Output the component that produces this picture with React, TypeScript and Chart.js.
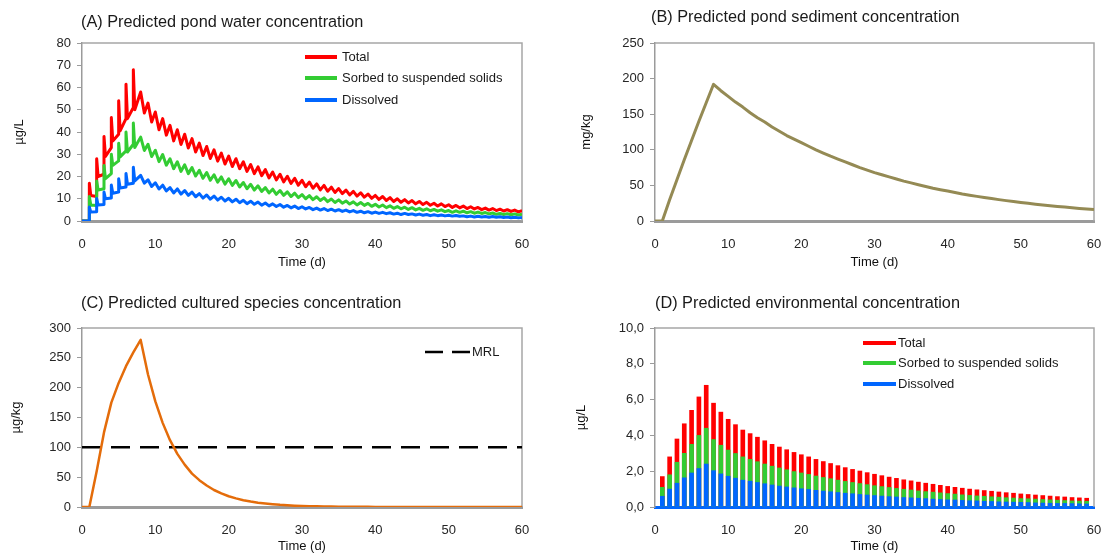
import React, { useEffect, useRef } from "react";
import { Chart, registerables } from "chart.js";

Chart.register(...registerables);

const FONT = '"Liberation Sans", Arial, Helvetica, sans-serif';
const TICK_COLOR = "#262626";
const AXIS_GRAY = "#9B9B9B";
const FRAME_GRAY = "#A6A6A6";

const RED = "#FF0000";
const GREEN = "#33CC33";
const BLUE = "#0066FF";
const OLIVE = "#948A54";
const ORANGE = "#E46C0A";

// ---------- (A) pond water concentration, µg/L ----------
// values just before each daily dose (days 1-7), the dose peak, and the value right after the drop
const totalBefore = [0, 11, 21, 33, 39, 46, 51];
const totalAfter = [11.5, 20, 29, 36, 40.5, 46, 50];
const totalPeak = [
  17, 28, 38, 46.5, 54, 61.5, 68,
  58, 53, 49, 46, 43, 41, 39, 37, 35, 33.5, 32, 30.5, 29.2,
  28, 26.6, 25.4, 24.3, 23.1, 22, 21, 20.1, 19.2, 18.3,
  17.5, 16.7, 16, 15.2, 14.6, 13.9, 13.3, 12.7, 12.1, 11.5,
  11, 10.5, 10, 9.6, 9.2, 8.8, 8.4, 8, 7.7, 7.3,
  7, 6.7, 6.4, 6.1, 5.8, 5.6, 5.3, 5.1, 4.9, 4.7,
];
// troughs between daily peaks, days 8.5 ... 59.5
const totalTrough = [
  48.5, 44.5, 41, 38.6, 36, 34.4, 32.8, 31, 29.4, 28.1,
  26.9, 25.6, 24.5, 23.5, 22.3, 21.3, 20.4, 19.4, 18.5, 17.6,
  16.9, 16.1, 15.4, 14.7, 14, 13.4, 12.8, 12.3, 11.7, 11.2,
  10.7, 10.2, 9.7, 9.2, 8.8, 8.4, 8.1, 7.7, 7.4, 7.1,
  6.7, 6.5, 6.1, 5.9, 5.6, 5.4, 5.1, 4.9, 4.7, 4.5,
  4.3, 4.1,
];

const sorbedBefore = [0, 7, 14.5, 21.3, 27, 31.5, 34.5];
const sorbedAfter = [7.2, 13.9, 19, 25, 28.8, 31, 33];
const sorbedPeak = [
  11, 18, 25, 30, 35, 40, 44,
  37.7, 34.5, 31.8, 29.9, 28, 26.6, 25.3, 24, 22.8, 21.8, 20.8, 19.8, 19,
  18.2, 17.3, 16.5, 15.8, 15, 14.3, 13.7, 13.1, 12.5, 11.9,
  11.4, 10.9, 10.4, 9.9, 9.5, 9, 8.6, 8.3, 7.9, 7.5,
  7.2, 6.8, 6.5, 6.2, 6, 5.7, 5.5, 5.2, 5, 4.7,
  4.6, 4.4, 4.2, 4, 3.8, 3.6, 3.4, 3.3, 3.2, 3.1,
];
const sorbedTrough = [
  31.7, 29, 26.7, 25.1, 23.5, 22.3, 21.3, 20.2, 19.2, 18.3,
  17.5, 16.6, 16, 15.3, 14.5, 13.9, 13.3, 12.6, 12, 11.5,
  11, 10.5, 10, 9.6, 9.2, 8.7, 8.3, 8, 7.6, 7.2,
  7, 6.6, 6.3, 6, 5.7, 5.5, 5.2, 5, 4.8, 4.6,
  4.4, 4.2, 3.9, 3.9, 3.7, 3.5, 3.4, 3.2, 3, 2.9,
  2.8, 2.7,
];

const dissolvedBefore = [0, 4.2, 7.4, 10.3, 13, 15.3, 17];
const dissolvedAfter = [4, 7.2, 10, 12.5, 14.8, 16.5, 18];
const dissolvedPeak = [
  6.3, 10.1, 13, 16.2, 19, 21.4, 24.2,
  20.5, 18.5, 17.2, 16.1, 15, 14.4, 13.7, 13, 12.3, 11.7, 11.2, 10.7, 10.2,
  9.8, 9.3, 8.9, 8.5, 8.1, 7.7, 7.4, 7, 6.7, 6.4,
  6.1, 5.8, 5.6, 5.3, 5.1, 4.9, 4.7, 4.4, 4.2, 4,
  3.9, 3.7, 3.5, 3.4, 3.2, 3.1, 2.9, 2.8, 2.7, 2.6,
  2.5, 2.3, 2.2, 2.1, 2, 2, 1.9, 1.8, 1.7, 1.6,
];
const dissolvedTrough = [
  17, 15.5, 14.4, 13.5, 12.6, 12.1, 11.5, 10.9, 10.3, 9.8,
  9.4, 9, 8.6, 8.2, 7.8, 7.5, 7.1, 6.8, 6.5, 6.2,
  5.9, 5.6, 5.4, 5.1, 4.9, 4.7, 4.5, 4.3, 4.1, 3.9,
  3.7, 3.5, 3.4, 3.3, 3.1, 2.9, 2.9, 2.7, 2.6, 2.4,
  2.4, 2.3, 2.2, 2.1, 1.9, 1.8, 1.8, 1.7, 1.7, 1.6,
  1.5, 1.4,
];

// ---------- (B) pond sediment concentration, mg/kg (days 0..60) ----------
const sediment = [
  0, 0, 30, 58, 86, 113, 140, 166, 192, 183,
  175, 167, 160, 152, 145, 139, 132, 126, 120, 115,
  110, 105, 100, 95.5, 91, 87, 83, 79, 75, 71.5,
  68, 65, 62, 59, 56, 53.5, 51, 48.5, 46, 44,
  42, 40, 38, 36.3, 34.6, 33, 31.5, 30, 28.6, 27.3,
  26, 24.8, 23.6, 22.5, 21.5, 20.5, 19.5, 18.6, 17.7, 16.9,
  16.1,
];

// ---------- (C) cultured species concentration, µg/kg (days 0..60) ----------
const species = [
  0, 0, 60, 125, 175, 208, 236, 259, 280, 222,
  177, 141, 112, 89, 71, 56, 45, 36, 28.5, 22.7,
  18, 14.4, 11.4, 9.1, 7.2, 5.8, 4.6, 3.6, 2.9, 2.3,
  1.8, 1.4, 1.1, 0.9, 0.7, 0.55, 0.45, 0.35, 0.28, 0.22,
  0.18, 0.14, 0.11, 0.09, 0.07, 0.06, 0.05, 0.04, 0.03, 0.02,
  0.02, 0.02, 0.01, 0.01, 0.01, 0.01, 0, 0, 0, 0,
  0,
];
const MRL = 100;

// ---------- (D) environmental concentration, µg/L (days 1..59) ----------
const envTotal = [
  1.7, 2.8, 3.8, 4.65, 5.4, 6.15, 6.8, 5.8, 5.3, 4.9,
  4.6, 4.3, 4.1, 3.9, 3.7, 3.5, 3.35, 3.2, 3.05, 2.92,
  2.8, 2.66, 2.54, 2.43, 2.31, 2.2, 2.1, 2.01, 1.92, 1.83,
  1.75, 1.67, 1.6, 1.52, 1.46, 1.39, 1.33, 1.27, 1.21, 1.15,
  1.1, 1.05, 1.0, 0.96, 0.92, 0.88, 0.84, 0.8, 0.77, 0.73,
  0.7, 0.67, 0.64, 0.61, 0.58, 0.56, 0.53, 0.51, 0.49,
];
const envSorbed = [
  1.1, 1.8, 2.5, 3.0, 3.5, 4.0, 4.4, 3.77, 3.45, 3.18,
  2.99, 2.8, 2.66, 2.53, 2.4, 2.28, 2.18, 2.08, 1.98, 1.9,
  1.82, 1.73, 1.65, 1.58, 1.5, 1.43, 1.37, 1.31, 1.25, 1.19,
  1.14, 1.09, 1.04, 0.99, 0.95, 0.9, 0.86, 0.83, 0.79, 0.75,
  0.72, 0.68, 0.65, 0.62, 0.6, 0.57, 0.55, 0.52, 0.5, 0.47,
  0.46, 0.44, 0.42, 0.4, 0.38, 0.36, 0.34, 0.33, 0.32,
];
const envDissolved = [
  0.6, 1.0, 1.33, 1.63, 1.9, 2.15, 2.4, 2.03, 1.85, 1.72,
  1.61, 1.5, 1.44, 1.37, 1.3, 1.23, 1.17, 1.12, 1.07, 1.02,
  0.98, 0.93, 0.89, 0.85, 0.81, 0.77, 0.74, 0.7, 0.67, 0.64,
  0.61, 0.58, 0.56, 0.53, 0.51, 0.49, 0.47, 0.44, 0.42, 0.4,
  0.39, 0.37, 0.35, 0.34, 0.32, 0.31, 0.29, 0.28, 0.27, 0.26,
  0.25, 0.23, 0.22, 0.21, 0.2, 0.2, 0.19, 0.18, 0.17,
];

const X_TICK_STEP = 10;
const LEGEND_LABELS = ["Total", "Sorbed to suspended solids", "Dissolved"];

// ---------- helpers ----------
type Pt = { x: number; y: number };

function buildPondSeries(before: number[], peak: number[], after: number[], trough: number[]): Pt[] {
  const pts: Pt[] = [{ x: 0, y: 0 }];
  const doseDays = before.length;
  for (let d = 1; d <= doseDays; d++) {
    pts.push({ x: d, y: before[d - 1] });
    pts.push({ x: d, y: peak[d - 1] });
    pts.push({ x: d + 0.2, y: after[d - 1] });
  }
  for (let d = doseDays + 1; d <= peak.length; d++) {
    pts.push({ x: d, y: peak[d - 1] });
    const t = trough[d - doseDays - 1];
    if (t !== undefined) pts.push({ x: d + 0.5, y: t });
  }
  return pts;
}

function dailyPoints(values: number[], firstDay: number): Pt[] {
  return values.map((v, i) => ({ x: firstDay + i, y: v }));
}

const decorPlugin = {
  id: "panelDecor",
  beforeDatasetsDraw(chart: any) {
    const { ctx, chartArea: ca } = chart;
    ctx.save();
    ctx.strokeStyle = FRAME_GRAY;
    ctx.lineWidth = 1.5;
    ctx.beginPath();
    ctx.moveTo(ca.left, ca.top);
    ctx.lineTo(ca.right, ca.top);
    ctx.lineTo(ca.right, ca.bottom);
    ctx.stroke();
    ctx.restore();
  },
  afterDraw(chart: any, _args: any, opts: any) {
    const { ctx } = chart;
    ctx.save();
    ctx.textBaseline = "middle";
    ctx.textAlign = "left";
    ctx.fillStyle = "#1a1a1a";
    ctx.font = `16.3px ${FONT}`;
    ctx.fillText(opts.title, opts.titleX, opts.titleY);
    const lg = opts.legend;
    if (lg) {
      ctx.font = `13px ${FONT}`;
      for (let i = 0; i < lg.items.length; i++) {
        const it = lg.items[i];
        const y = lg.ys[i];
        ctx.strokeStyle = it.color;
        ctx.lineWidth = it.width;
        ctx.setLineDash(it.dash ? [it.dash[0], it.dash[1]] : []);
        ctx.beginPath();
        ctx.moveTo(lg.x1, y);
        ctx.lineTo(lg.x2, y);
        ctx.stroke();
        ctx.setLineDash([]);
        ctx.fillStyle = "#1a1a1a";
        ctx.fillText(it.label, lg.tx, y);
      }
    }
    ctx.restore();
  },
};

type AxisSpec = {
  yMax: number;
  yStep: number;
  yTitle: string;
  yTitlePad: number;
  yWidth: number;
  padRight: number;
  padTop: number;
  xHeight: number;
  xTitlePad: number;
  xBorderColor: string;
  yFormat?: (v: number) => string;
};

function makeScales(s: AxisSpec) {
  const yTicks: any = {
    stepSize: s.yStep,
    color: TICK_COLOR,
    font: { family: FONT, size: 13 },
    padding: 6,
    autoSkip: false,
  };
  if (s.yFormat) yTicks.callback = s.yFormat;
  return {
    x: {
      type: "linear",
      min: 0,
      max: 60,
      offset: false,
      stacked: true,
      ticks: {
        stepSize: X_TICK_STEP,
        color: TICK_COLOR,
        font: { family: FONT, size: 13 },
        padding: 8,
        maxRotation: 0,
        autoSkip: false,
      },
      grid: { display: false },
      border: { display: true, color: s.xBorderColor, width: 3 },
      title: {
        display: true,
        text: "Time (d)",
        color: "#111",
        font: { family: FONT, size: 13, lineHeight: 1 },
        padding: { top: 0, bottom: s.xTitlePad },
      },
      afterFit: (scale: any) => {
        scale.height = s.xHeight;
      },
    },
    y: {
      type: "linear",
      min: 0,
      max: s.yMax,
      stacked: false,
      ticks: yTicks,
      grid: {
        display: true,
        drawOnChartArea: false,
        drawTicks: true,
        tickLength: 5,
        color: AXIS_GRAY,
        lineWidth: 1,
      },
      border: { display: true, color: AXIS_GRAY, width: 1.5 },
      title: {
        display: true,
        text: s.yTitle,
        color: "#111",
        font: { family: FONT, size: 13, lineHeight: 1.2 },
        padding: { top: s.yTitlePad, bottom: 0 },
      },
      afterFit: (scale: any) => {
        scale.width = s.yWidth;
      },
    },
  };
}

function baseOptions(s: AxisSpec, decor: any) {
  return {
    responsive: false,
    animation: false,
    devicePixelRatio: 1,
    layout: { padding: { left: 0, right: s.padRight, top: s.padTop, bottom: 0 } },
    plugins: {
      legend: { display: false },
      tooltip: { enabled: false },
      panelDecor: decor,
    },
    scales: makeScales(s),
    elements: { point: { radius: 0 } },
  };
}

const TOP_H = 276;
const BOTTOM_H = 277;
const LEFT_W = 551;
const RIGHT_W = 559; // extends past the page edge; clipped by the wrapper

function configA() {
  const lineDs = (label: string, data: Pt[], color: string, order: number) => ({
    type: "line",
    label,
    data,
    borderColor: color,
    backgroundColor: color,
    borderWidth: 3,
    pointRadius: 0,
    tension: 0,
    borderJoinStyle: "round",
    order,
  });
  return {
    type: "line",
    data: {
      datasets: [
        lineDs(LEGEND_LABELS[0], buildPondSeries(totalBefore, totalPeak, totalAfter, totalTrough), RED, 3),
        lineDs(LEGEND_LABELS[1], buildPondSeries(sorbedBefore, sorbedPeak, sorbedAfter, sorbedTrough), GREEN, 2),
        lineDs(LEGEND_LABELS[2], buildPondSeries(dissolvedBefore, dissolvedPeak, dissolvedAfter, dissolvedTrough), BLUE, 1),
      ],
    },
    options: baseOptions(
      { yMax: 80, yStep: 10, yTitle: "µg/L", yTitlePad: 12, yWidth: 82, padRight: 29, padTop: 43, xHeight: 55, xTitlePad: 7.5, xBorderColor: AXIS_GRAY },
      {
        title: "(A) Predicted pond water concentration",
        titleX: 81,
        titleY: 23,
        legend: {
          x1: 305, x2: 337, tx: 342, ys: [57, 78, 100],
          items: [
            { label: LEGEND_LABELS[0], color: RED, width: 4 },
            { label: LEGEND_LABELS[1], color: GREEN, width: 4 },
            { label: LEGEND_LABELS[2], color: BLUE, width: 4 },
          ],
        },
      }
    ),
    plugins: [decorPlugin],
  };
}

function configB() {
  return {
    type: "line",
    data: {
      datasets: [
        {
          label: "Sediment",
          data: dailyPoints(sediment, 0),
          borderColor: OLIVE,
          borderWidth: 3,
          pointRadius: 0,
          tension: 0,
          borderJoinStyle: "round",
        },
      ],
    },
    options: baseOptions(
      { yMax: 250, yStep: 50, yTitle: "mg/kg", yTitlePad: 28, yWidth: 104, padRight: 16, padTop: 43, xHeight: 55, xTitlePad: 7.5, xBorderColor: AXIS_GRAY },
      { title: "(B) Predicted pond sediment concentration", titleX: 100, titleY: 18 }
    ),
    plugins: [decorPlugin],
  };
}

function configC() {
  return {
    type: "line",
    data: {
      datasets: [
        {
          label: "Cultured species",
          data: dailyPoints(species, 0),
          borderColor: ORANGE,
          borderWidth: 2.5,
          pointRadius: 0,
          tension: 0,
          borderJoinStyle: "round",
          order: 1,
        },
        {
          label: "MRL",
          data: [
            { x: 0, y: MRL },
            { x: 60, y: MRL },
          ],
          borderColor: "#000000",
          borderWidth: 2.5,
          borderDash: [19, 10],
          pointRadius: 0,
          order: 2,
        },
      ],
    },
    options: baseOptions(
      { yMax: 300, yStep: 50, yTitle: "µg/kg", yTitlePad: 9, yWidth: 82, padRight: 29, padTop: 52, xHeight: 46, xTitlePad: 0, xBorderColor: AXIS_GRAY },
      {
        title: "(C) Predicted cultured species concentration",
        titleX: 81,
        titleY: 28,
        legend: {
          x1: 425, x2: 470, tx: 472, ys: [76],
          items: [{ label: "MRL", color: "#000000", width: 2.5, dash: [18, 9] }],
        },
      }
    ),
    plugins: [decorPlugin],
  };
}

function configD() {
  const barDs = (label: string, values: number[], color: string, order: number) => ({
    type: "bar",
    label,
    data: dailyPoints(values, 1),
    backgroundColor: color,
    borderWidth: 0,
    barThickness: 4,
    order,
  });
  return {
    type: "bar",
    data: {
      datasets: [
        barDs(LEGEND_LABELS[0], envTotal, RED, 3),
        barDs(LEGEND_LABELS[1], envSorbed, GREEN, 2),
        barDs(LEGEND_LABELS[2], envDissolved, BLUE, 1),
      ],
    },
    options: baseOptions(
      {
        yMax: 10,
        yStep: 2,
        yTitle: "µg/L",
        yTitlePad: 23,
        yWidth: 104,
        padRight: 16,
        padTop: 52,
        xHeight: 46,
        xTitlePad: 0,
        xBorderColor: BLUE,
        yFormat: (v: number) => Number(v).toFixed(1).replace(".", ","),
      },
      {
        title: "(D) Predicted environmental concentration",
        titleX: 104,
        titleY: 28,
        legend: {
          x1: 312, x2: 345, tx: 347, ys: [67, 87, 108],
          items: [
            { label: LEGEND_LABELS[0], color: RED, width: 4 },
            { label: LEGEND_LABELS[1], color: GREEN, width: 4 },
            { label: LEGEND_LABELS[2], color: BLUE, width: 4 },
          ],
        },
      }
    ),
    plugins: [decorPlugin],
  };
}

function Panel(props: { left: number; top: number; width: number; height: number; make: () => any }) {
  const ref = useRef<HTMLCanvasElement>(null);
  useEffect(() => {
    const chart = new Chart(ref.current as HTMLCanvasElement, props.make());
    return () => chart.destroy();
  }, []);
  return (
    <div style={{ position: "absolute", left: props.left, top: props.top, width: props.width, height: props.height }}>
      <canvas
        ref={ref}
        width={props.width}
        height={props.height}
        style={{ display: "block", width: props.width, height: props.height }}
      />
    </div>
  );
}

export default function App() {
  return (
    <div style={{ position: "absolute", left: 0, top: 0, width: 1103, height: 553, background: "#ffffff", overflow: "hidden" }}>
      <Panel left={0} top={0} width={LEFT_W} height={TOP_H} make={configA} />
      <Panel left={LEFT_W} top={0} width={RIGHT_W} height={TOP_H} make={configB} />
      <Panel left={0} top={TOP_H} width={LEFT_W} height={BOTTOM_H} make={configC} />
      <Panel left={LEFT_W} top={TOP_H} width={RIGHT_W} height={BOTTOM_H} make={configD} />
    </div>
  );
}
